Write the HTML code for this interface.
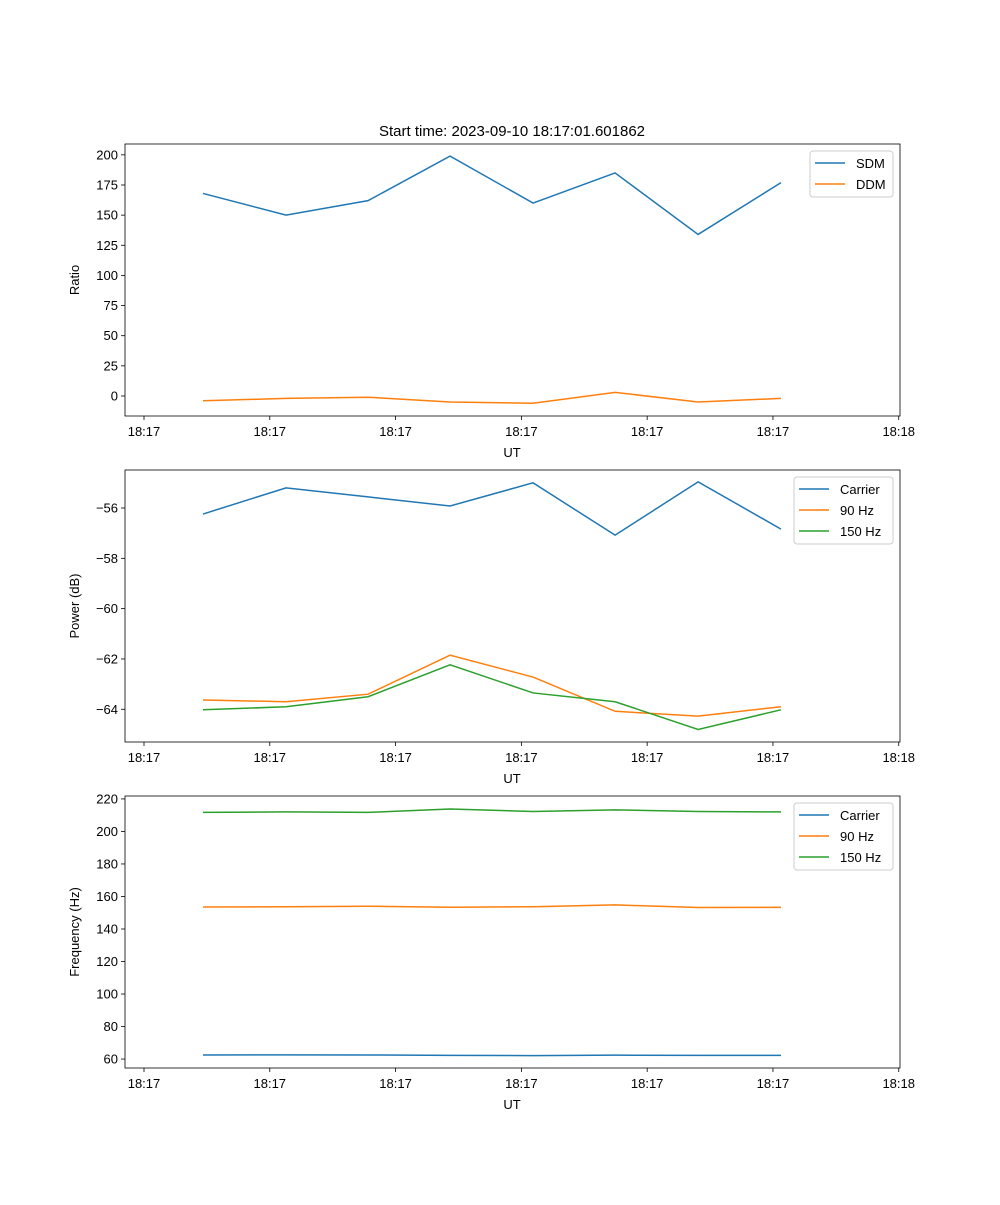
<!DOCTYPE html>
<html><head><meta charset="utf-8"><style>
body{margin:0;background:#fff}
svg text{font-family:"Liberation Sans","DejaVu Sans",sans-serif;font-size:13px;fill:#000}
</style></head><body>
<svg id="fig" width="1000" height="1200" xmlns="http://www.w3.org/2000/svg"></svg>
<script>
const xPos = [0.469,1.129,1.781,2.433,3.093,3.745,4.405,5.064];
const xTickLabels = ["18:17","18:17","18:17","18:17","18:17","18:17","18:18"];
const sdm = [168,150,162,199,160,185,134,177];
const ddm = [-4,-2,-1,-5,-6,3,-5,-2];
const carrierPow = [-56.24,-55.2,-55.56,-55.92,-55.0,-57.08,-54.96,-56.84];
const hz90Pow = [-63.63,-63.7,-63.4,-61.85,-62.72,-64.08,-64.27,-63.9];
const hz150Pow = [-64.02,-63.9,-63.5,-62.23,-63.35,-63.7,-64.8,-64.02];
const carrierFreq = [62.5,62.6,62.5,62.3,62.1,62.4,62.3,62.3];
const hz90Freq = [153.5,153.7,154,153.4,153.7,154.8,153.2,153.3];
const hz150Freq = [211.7,212,211.7,213.8,212.3,213.3,212.3,212];
const yTicks1 = [0,25,50,75,100,125,150,175,200];
const yTicks2 = [-64,-62,-60,-58,-56];
const yTicks3 = [60,80,100,120,140,160,180,200,220];

const NS="http://www.w3.org/2000/svg";
const svg=document.getElementById('fig');
function mk(tag,attrs,parent){const e=document.createElementNS(NS,tag);for(const k in attrs)e.setAttribute(k,attrs[k]);(parent||svg).appendChild(e);return e;}
const L=125,R=900;
const xs=v=>L+(v+0.151)/(6.161)*(R-L);

function panel(id,top,bot,ymin,ymax,yticks,ylabel,series,legend,title){
  const g=mk('g',{});
  
  
  const ys=v=>bot-(v-ymin)/(ymax-ymin)*(bot-top);
  if(title){const t=mk('text',{x:512,y:top-8,'text-anchor':'middle','font-size':'15'},g);t.textContent=title;t.style.fontSize='15px';
    }
  for(let i=0;i<xTickLabels.length;i++){const x=xs(i);
    mk('line',{x1:x,x2:x,y1:bot,y2:bot+4,stroke:'#000','stroke-width':0.8},g);
    const t=mk('text',{x:x,y:bot+20,'text-anchor':'middle'},g);t.textContent=xTickLabels[i];
    }
  const xl=mk('text',{x:512,y:bot+41,'text-anchor':'middle'},g);xl.textContent='UT';
  
  yticks.forEach(v=>{const y=ys(v);
    mk('line',{x1:L-4,x2:L,y1:y,y2:y,stroke:'#000','stroke-width':0.8},g);
    const t=mk('text',{x:L-7,y:y+4.5,'text-anchor':'end'},g);t.textContent=(v<0?'\u2212'+(-v):v);
    });
  const yl=mk('text',{x:0,y:0,'text-anchor':'middle',transform:`translate(79,${(top+bot)/2}) rotate(-90)`},g);yl.textContent=ylabel;
  
  series.forEach(s=>{const p=mk('polyline',{points:s.d.map((v,i)=>xs(xPos[i])+','+ys(v)).join(' '),fill:'none',stroke:s.c,'stroke-width':1.5},g);
    });
  mk('rect',{x:L,y:top,width:R-L,height:bot-top,fill:'none',stroke:'#000','stroke-width':0.8},g);
  const lg=mk('g',{},g);
  mk('rect',{x:legend.x,y:top+7,width:legend.w,height:series.length*21+4,rx:3,fill:'#fff',stroke:'#ccc','stroke-width':1},lg);
  series.forEach((s,i)=>{const y=top+19+i*21;
    mk('line',{x1:legend.x+5,x2:legend.x+35,y1:y,y2:y,stroke:s.c,'stroke-width':1.5},lg);
    const t=mk('text',{x:legend.x+46,y:y+5},lg);t.textContent=s.n;
    });
}
const B='#1f77b4',O='#ff7f0e',G='#2ca02c';
panel('ratio-panel',144,416,-16.6,209,yTicks1,'Ratio',[{n:'SDM',d:sdm,c:B},{n:'DDM',d:ddm,c:O}],{x:810,w:83},'Start time: 2023-09-10 18:17:01.601862');
panel('power-panel',470,742,-65.3,-54.49,yTicks2,'Power (dB)',[{n:'Carrier',d:carrierPow,c:B},{n:'90 Hz',d:hz90Pow,c:O},{n:'150 Hz',d:hz150Pow,c:G}],{x:794,w:99});
panel('frequency-panel',796,1068,54.5,221.8,yTicks3,'Frequency (Hz)',[{n:'Carrier',d:carrierFreq,c:B},{n:'90 Hz',d:hz90Freq,c:O},{n:'150 Hz',d:hz150Freq,c:G}],{x:794,w:99});
</script>
</body></html>
